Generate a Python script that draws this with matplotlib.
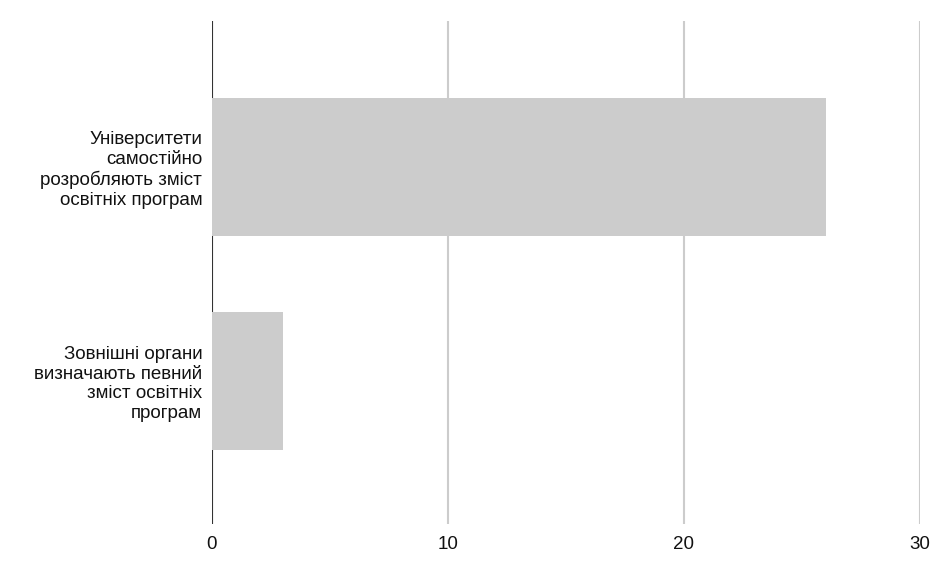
import matplotlib.pyplot as plt

categories = [
    "Університети\nсамостійно\nрозробляють зміст\nосвітніх програм",
    "Зовнішні органи\nвизначають певний\nзміст освітніх\nпрограм",
]
values = [26, 3]
xticks = [0, 10, 20, 30]

plt.rcParams['font.family'] = ['Liberation Sans', 'DejaVu Sans']

fig = plt.figure(figsize=(9.4, 5.77), dpi=100)
ax = fig.add_axes([0.2255, 0.0919, 0.7532, 0.8717])
ax.set_axisbelow(True)

ypos = list(range(len(categories)))
ax.barh(ypos, values, height=0.645, color='#cccccc', zorder=3)

ax.set_xlim(0, 30)
ax.set_ylim(1.67, -0.68)
ax.set_xticks(xticks)
ax.set_xticklabels([str(t) for t in xticks], fontsize=13.5)
ax.set_yticks(ypos)
ax.set_yticklabels(categories, fontsize=13.5, linespacing=1.2, ha='right',
                   multialignment='right')

ax.tick_params(axis='both', length=0, colors='#111111')
ax.tick_params(axis='x', pad=9)
ax.tick_params(axis='y', pad=7)
for s in ax.spines.values():
    s.set_visible(False)

ax.grid(axis='x', color='#cccccc', linewidth=1.5)
ax.axvline(0, color='#333333', linewidth=1.5, zorder=2)

fig.savefig('out.png', dpi=100)
